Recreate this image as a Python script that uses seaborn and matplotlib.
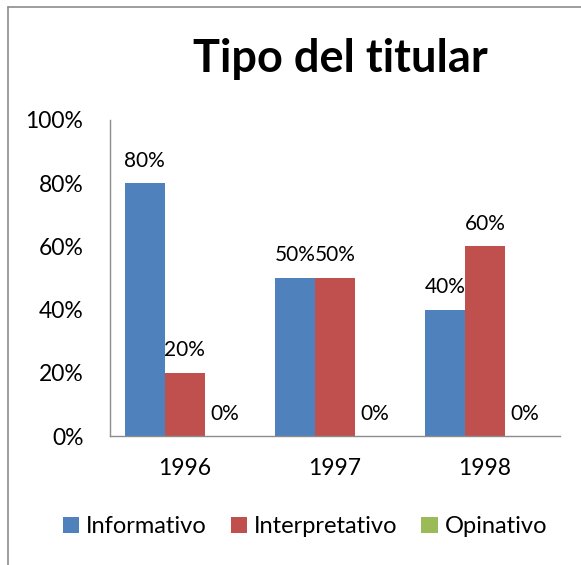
import matplotlib
matplotlib.use("Agg")
import matplotlib.pyplot as plt
import matplotlib.ticker as mticker
from matplotlib.lines import Line2D
import seaborn as sns
import pandas as pd

years = ["1996", "1997", "1998"]
tipos = ["Informativo", "Interpretativo", "Opinativo"]
informativo = [80, 50, 40]
interpretativo = [20, 50, 60]
opinativo = [0, 0, 0]
colores = ["#4F81BD", "#C0504D", "#9BBB59"]

df = pd.DataFrame({
    "year": years * 3,
    "tipo": [t for t in tipos for _ in years],
    "valor": informativo + interpretativo + opinativo,
})

sns.set_style("white")
plt.rcParams["font.family"] = ["Lato", "DejaVu Sans"]
plt.rcParams["text.color"] = "black"

fig = plt.figure(figsize=(5.81, 5.65), dpi=100)
ax = fig.add_axes([0.189, 0.228, 0.775, 0.56])

sns.barplot(data=df, x="year", y="valor", hue="tipo", order=years,
            hue_order=tipos, palette=colores, width=0.8, ax=ax,
            saturation=1, edgecolor="none")

for cont in ax.containers:
    ax.bar_label(cont, fmt="%.0f%%", padding=9, fontsize=15, color="black")

ax.set_ylim(0, 100)
ax.set_xlim(-0.5, 2.5)
ax.yaxis.set_major_locator(mticker.MultipleLocator(20))
ax.yaxis.set_major_formatter(mticker.FuncFormatter(lambda v, p: f"{v:.0f}%"))
ax.set_xlabel("")
ax.set_ylabel("")
ax.tick_params(axis="both", labelsize=16.5, length=0, labelcolor="black")
ax.tick_params(axis="x", pad=16)
ax.tick_params(axis="y", pad=19)
sns.despine(ax=ax, top=True, right=True)
for s in ("left", "bottom"):
    ax.spines[s].set_color("#8c8c8c")
    ax.spines[s].set_linewidth(1)

ax.legend(loc="center", bbox_to_anchor=(0.525, 0.068), bbox_transform=fig.transFigure,
          ncol=3, frameon=False, fontsize=17, handlelength=0.7, handleheight=0.7,
          handletextpad=0.3, columnspacing=1.0)

fig.text(0.585, 0.895, "Tipo del titular", ha="center", va="center",
         fontsize=32.5, fontweight="bold", color="black")

# chart border (top and left visible)
fig.add_artist(Line2D([8 / 581, 1], [1 - 7 / 565, 1 - 7 / 565],
                      transform=fig.transFigure, color="#8c8c8c", lw=1.2))
fig.add_artist(Line2D([8 / 581, 8 / 581], [0, 1 - 7 / 565],
                      transform=fig.transFigure, color="#8c8c8c", lw=1.2))

fig.savefig("out.png", dpi=100)
